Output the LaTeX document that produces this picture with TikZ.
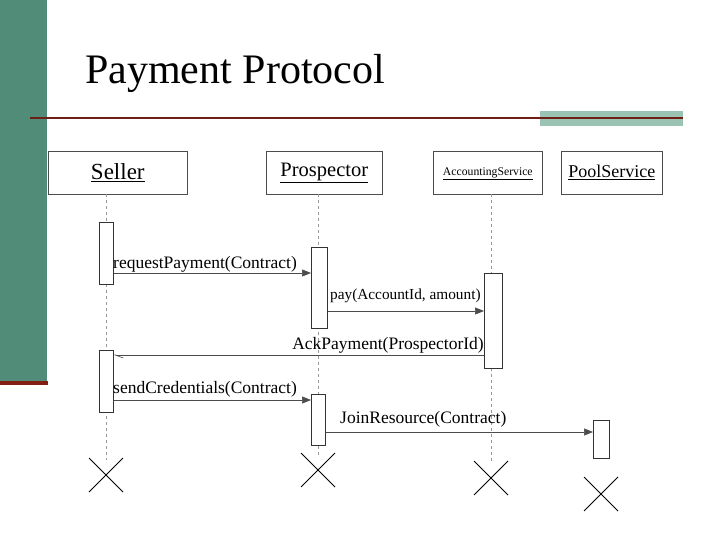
\documentclass[tikz,border=0pt]{standalone}
\usepackage{fontspec}
\setmainfont{Liberation Serif}
\usetikzlibrary{arrows.meta}
\definecolor{bargreen}{RGB}{80,140,120}
\definecolor{barred}{RGB}{130,30,20}
\definecolor{linered}{RGB}{110,30,20}
\definecolor{lightgreen}{RGB}{155,195,180}
\begin{document}
\begin{tikzpicture}[x=1pt,y=-1pt,
  obj/.style={draw=black!70,line width=0.6pt,fill=white,anchor=north west,inner sep=0pt},
  act/.style={draw=black!80,line width=0.6pt,fill=white},
  life/.style={draw=black!40,dashed,line width=0.4pt},
  msg/.style={draw=black!70,line width=0.6pt,-{Triangle[length=9pt,width=7pt]}},
  lbl/.style={font=\fontsize{17.5}{19}\selectfont,inner sep=1pt},
  xmark/.style={line width=0.8pt}]
\useasboundingbox (0,0) rectangle (720,540);
\fill[white] (0,0) rectangle (720,540);
\fill[bargreen] (0,0) rectangle (47,383);
\fill[barred] (0,381) rectangle (48,385);
\fill[lightgreen] (540,111) rectangle (683,126);
\draw[linered,line width=1.5pt] (30,118) -- (683,118);
\node[anchor=base west,font=\fontsize{42}{46}\selectfont,inner sep=0pt] (title) at (85,84) {Payment Protocol};
% objects
\node[obj,minimum width=139pt,minimum height=43pt] (seller) at (48,151) {};
\node[lbl,font=\fontsize{23}{25}\selectfont] at (seller.center) {\underline{Seller}};
\node[obj,minimum width=116pt,minimum height=43pt] (prosp) at (266,151) {};
\node[lbl,font=\fontsize{20.5}{22}\selectfont] at (prosp.center) {\underline{Prospector}};
\node[obj,minimum width=109pt,minimum height=43pt] (acct) at (433,151) {};
\node[lbl,font=\fontsize{11.7}{13}\selectfont] at ([yshift=-1pt]acct.center) {\underline{AccountingService}};
\node[obj,minimum width=101pt,minimum height=43pt] (pool) at (561,151) {};
\node[lbl,font=\fontsize{18}{20}\selectfont] at (pool.center) {\underline{PoolService}};
% lifelines
\coordinate (sl0) at (106,194); \coordinate (sl1) at (106,460);
\coordinate (pl0) at (318,194); \coordinate (pl1) at (318,455);
\coordinate (al0) at (491,194); \coordinate (al1) at (491,462);
\draw[life] (sl0) -- (sl1);
\draw[life] (pl0) -- (pl1);
\draw[life] (al0) -- (al1);
% activations
\node[act,anchor=north west,minimum width=14pt,minimum height=62pt,inner sep=0pt] (s1) at (99,222) {};
\node[act,anchor=north west,minimum width=14pt,minimum height=62pt,inner sep=0pt] (s2) at (99,350) {};
\node[act,anchor=north west,minimum width=16pt,minimum height=81pt,inner sep=0pt] (p1) at (311,247) {};
\node[act,anchor=north west,minimum width=14pt,minimum height=51pt,inner sep=0pt] (p2) at (311,394) {};
\node[act,anchor=north west,minimum width=18pt,minimum height=95pt,inner sep=0pt] (a1) at (484,273) {};
\node[act,anchor=north west,minimum width=16pt,minimum height=38pt,inner sep=0pt] (q1) at (593,420) {};
% messages
\draw[msg] (s1.east |- 0,273) -- (p1.west |- 0,273);
\node[lbl,anchor=base west,inner sep=0pt] at (113,268) {requestPayment(Contract)};
\draw[msg] (p1.east |- 0,311) -- (a1.west |- 0,311);
\node[lbl,anchor=base west,inner sep=0pt,font=\fontsize{15.3}{17}\selectfont] at (330,299) {pay(AccountId, amount)};
\draw[draw=black!70,line width=0.6pt,-{Straight Barb[left,length=8pt,width=6pt]}] (a1.west |- 0,355) -- (s2.east |- 0,355);
\node[lbl,anchor=base east,inner sep=0pt] at (484,349) {AckPayment(ProspectorId)};
\draw[msg] (s2.east |- 0,400) -- (p2.west |- 0,400);
\node[lbl,anchor=base west,inner sep=0pt] at (113,393) {sendCredentials(Contract)};
\draw[msg] (p2.east |- 0,432) -- (q1.west |- 0,432);
\node[lbl,anchor=base west,inner sep=0pt] at (340,423) {JoinResource(Contract)};
% destruction marks
\foreach \n/\x/\y in {xs/106/475, xp/318/470, xa/491/478, xq/601/494}{
  \coordinate (\n) at (\x,\y);
  \draw[xmark] ([shift={(-17,-17)}]\n) -- ([shift={(17,17)}]\n);
  \draw[xmark] ([shift={(-17,17)}]\n) -- ([shift={(17,-17)}]\n);
}
\end{tikzpicture}
\end{document}
